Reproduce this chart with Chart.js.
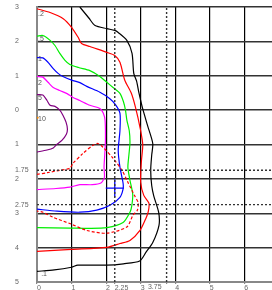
<!DOCTYPE html>
<html><head><meta charset="utf-8">
<script src="https://cdn.jsdelivr.net/npm/chart.js@4/dist/chart.umd.min.js"></script>
<style>html,body{margin:0;padding:0;background:#fff;}canvas{display:block;}</style>
</head><body>
<canvas id="c" width="272" height="290"></canvas>
<script>
// Tick values
const xTicks = [0, 1, 2, 2.25, 3, 3.75, 4, 5, 6];
const yTicks = [3, 2, 1, 0, -1, -1.75, -2, -2.75, -3, -4, -5];
const dottedX = [2.25, 3.75];
const dottedY = [-1.75, -2.75];
const shiftedXLabel = 3.75; // drawn to the left of its tick, as in the source

// Contour series (x, y pairs)
const c01 = [[1.24,3.0],[1.5,2.68],[1.68,2.46],[2.02,2.37],[2.25,2.32],[2.35,2.26],[2.6,2.03],[2.75,1.65],[2.8,1.07],[2.88,0.85],[2.95,0.5],[3.05,0.07],[3.2,-0.45],[3.35,-0.97],[3.32,-1.3],[3.29,-1.75],[3.32,-2.2],[3.38,-2.5],[3.52,-2.97],[3.53,-3.35],[3.35,-3.85],[3.15,-4.14],[2.97,-4.39],[2.5,-4.47],[2.02,-4.51],[1.18,-4.51],[1.0,-4.57],[0.5,-4.65],[0,-4.69]];
const c02 = [[0,2.95],[0.38,2.84],[0.76,2.66],[1.0,2.41],[1.19,2.12],[1.29,1.94],[1.53,1.85],[2.02,1.68],[2.25,1.59],[2.4,1.39],[2.54,0.87],[2.73,0.49],[2.85,0.08],[2.98,-0.5],[3.06,-1.0],[3.02,-1.5],[3.0,-2.1],[3.09,-2.48],[3.24,-2.71],[3.22,-2.95],[3.15,-3.15],[2.98,-3.5],[2.69,-3.79],[2.4,-3.88],[2.02,-3.99],[1.0,-4.05],[0,-4.11]];
const c02b = [[0,-1.87],[0.3,-1.82],[0.66,-1.75],[0.95,-1.69],[1.04,-1.55],[1.33,-1.26],[1.62,-1.02],[1.76,-0.97],[1.91,-1.08],[2.2,-1.4],[2.46,-1.75],[2.63,-2.1],[2.83,-2.5],[2.93,-2.7],[2.9,-2.92],[2.78,-3.05],[2.6,-3.4],[2.02,-3.58],[1.44,-3.5],[0.95,-3.3],[0.47,-3.12],[0.17,-2.97],[0,-2.94]];
const c05 = [[0,2.15],[0.17,2.17],[0.38,2.03],[0.52,1.88],[0.66,1.65],[0.81,1.45],[0.95,1.33],[1.2,1.24],[1.53,1.15],[1.82,0.98],[2.02,0.81],[2.2,0.66],[2.4,0.49],[2.5,0.25],[2.56,0.0],[2.6,-0.29],[2.67,-0.6],[2.69,-0.95],[2.66,-1.3],[2.63,-1.67],[2.69,-2.04],[2.77,-2.45],[2.74,-2.8],[2.69,-2.97],[2.49,-3.27],[2.02,-3.42],[1.5,-3.44],[0.95,-3.43],[0,-3.42]];
const c1 = [[0,1.53],[0.17,1.52],[0.32,1.39],[0.47,1.21],[0.61,1.07],[0.75,0.98],[1.04,0.86],[1.24,0.8],[1.44,0.69],[1.82,0.52],[2.1,0.34],[2.27,0.16],[2.4,-0.09],[2.4,-0.6],[2.35,-1.17],[2.4,-1.66],[2.49,-2.12],[2.49,-2.3],[2.4,-2.54],[2.11,-2.77],[1.73,-2.91],[1.24,-2.97],[0.58,-2.94],[0,-2.88]];
const c2 = [[0,0.98],[0.17,0.96],[0.32,0.81],[0.47,0.66],[0.66,0.57],[0.87,0.48],[1.04,0.37],[1.24,0.28],[1.53,0.14],[1.82,0.05],[1.92,-0.09],[1.97,-0.3],[1.98,-0.87],[1.96,-1.3],[1.94,-1.66],[1.95,-1.96],[1.85,-2.12],[1.6,-2.17],[1.24,-2.17],[0.95,-2.24],[0.55,-2.28],[0,-2.31]];
const c5 = [[0,0.45],[0.17,0.44],[0.29,0.28],[0.38,0.14],[0.52,0.11],[0.66,0.0],[0.75,-0.15],[0.84,-0.35],[0.88,-0.55],[0.85,-0.7],[0.72,-0.88],[0.58,-0.99],[0.47,-1.1],[0.29,-1.16],[0,-1.22]];
const c10 = [[0.02,-0.22]];
const crossPoint = [[2.25,-2.27]];

// Contour labels
const labelText = ['.2', '.5', '1', '2', '5', '10', '.1'];
const labelX = [0.03, 0.03, 0.03, 0.03, 0.03, 0.03, 0.12];
const labelY = [2.8, 2.06, 1.5, 0.8, 0.36, -0.26, -4.78];

const pts = a => a.map(p => ({x: p[0], y: p[1]}));
const line = (data, color, extra) => Object.assign({
  data: pts(data), borderColor: color, backgroundColor: color, showLine: true,
  pointRadius: 0, borderWidth: 1.2, tension: 0.25, fill: false
}, extra || {});

const datasets = [];
dottedX.forEach(v => datasets.push(line([[v,-5],[v,3]], '#333', {borderDash:[2,2], borderWidth:1.4, tension:0})));
dottedY.forEach(v => datasets.push(line([[0,v],[6.8,v]], '#333', {borderDash:[2,2], borderWidth:1.4, tension:0})));
datasets.push(line(c01, '#000000'));
datasets.push(line(c02, '#ff0000'));
datasets.push(line(c02b, '#ff0000', {borderDash:[3,2]}));
datasets.push(line(c05, '#00ee00'));
datasets.push(line(c1, '#0000ff'));
datasets.push(line(c2, '#ff00ff'));
datasets.push(line(c5, '#800080'));
datasets.push({data: pts(c10), showLine:false, pointRadius:1, pointStyle:'circle', backgroundColor:'#ff8c00', borderColor:'#ff8c00', borderWidth:0});
datasets.push({data: pts(crossPoint), showLine:false, pointStyle:'cross', pointRadius:9, borderColor:'#0000ff', borderWidth:1.3});

const FONT = '"Liberation Sans", Arial, sans-serif';
const labelPlugin = {
  id: 'contourLabels',
  afterDraw(chart) {
    const {ctx, scales} = chart;
    ctx.save();
    ctx.font = '7px ' + FONT;
    ctx.fillStyle = '#555';
    ctx.textAlign = 'left';
    ctx.textBaseline = 'middle';
    labelText.forEach((t, i) => {
      ctx.fillText(t, scales.x.getPixelForValue(labelX[i]), scales.y.getPixelForValue(labelY[i]));
    });
    // shifted x tick label
    ctx.fillStyle = '#666';
    ctx.textAlign = 'right';
    ctx.textBaseline = 'top';
    ctx.fillText(String(shiftedXLabel), scales.x.getPixelForValue(shiftedXLabel) - 5, scales.x.top + 2);
    ctx.restore();
  }
};

const isDot = (arr, v) => arr.some(d => Math.abs(d - v) < 1e-9);
const tickFont = {family: FONT, size: 7};

new Chart(document.getElementById('c'), {
  type: 'scatter',
  data: {datasets},
  options: {
    responsive: false, animation: false,
    layout: {autoPadding: false, padding: {left: 15, top: 7, right: 0, bottom: 0}},
    plugins: {legend: {display: false}, tooltip: {enabled: false}},
    scales: {
      x: {
        type: 'linear', min: 0, max: 6.8,
        afterBuildTicks: ax => { ax.ticks = xTicks.map(v => ({value: v})); },
        afterFit: ax => { ax.height = 8; ax.paddingRight = 0; ax.paddingLeft = 0; },
        ticks: {align: 'start', autoSkip: false, maxRotation: 0, padding: 0, color: '#666', font: tickFont,
                callback: v => (Math.abs(v - shiftedXLabel) < 1e-9 ? '' : String(v))},
        grid: {color: ctx => (ctx.tick && isDot(dottedX, ctx.tick.value)) ? 'rgba(0,0,0,0)' : '#000',
               lineWidth: 1.2, tickLength: 2, tickColor: '#888'},
        border: {display: true, color: '#888', width: 2}
      },
      y: {
        type: 'linear', min: -5, max: 3,
        afterBuildTicks: ax => { ax.ticks = yTicks.map(v => ({value: v})); },
        afterFit: ax => { ax.width = 22; ax.paddingTop = 0; ax.paddingBottom = 0; },
        ticks: {crossAlign: 'far', autoSkip: false, padding: 0, color: '#666', font: tickFont,
                callback: v => String(Math.abs(v))},
        grid: {color: ctx => (ctx.tick && isDot(dottedY, ctx.tick.value)) ? 'rgba(0,0,0,0)' : '#333',
               lineWidth: 1.5, drawTicks: false},
        border: {display: true, color: '#888', width: 2}
      }
    }
  },
  plugins: [labelPlugin]
});
</script>
</body></html>
